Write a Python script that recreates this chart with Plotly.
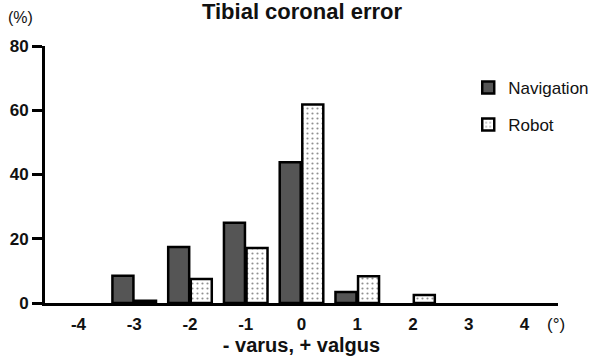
import plotly.graph_objects as go

categories = [-4, -3, -2, -1, 0, 1, 2, 3, 4]
navigation = [0, 8.5, 17.4, 25.0, 43.8, 3.4, 0, 0, 0]
robot = [0, 0.7, 7.5, 17.1, 61.8, 8.3, 2.5, 0, 0]
y_ticks = [0, 20, 40, 60, 80]

font_family = "Arial, Liberation Sans, Helvetica, sans-serif"


def nonzero(vals):
    return [v if v > 0 else None for v in vals]


fig = go.Figure()
fig.add_trace(go.Bar(
    x=categories, y=nonzero(navigation), name="Navigation", legendgroup="nav",
    marker=dict(color="#555555", line=dict(color="black", width=2.5)),
))
fig.add_trace(go.Bar(
    x=categories, y=nonzero(robot), name="Robot", legendgroup="rob",
    marker=dict(color="white", line=dict(color="black", width=2.5),
                pattern=dict(shape=".", fgcolor="#222222", bgcolor="white",
                             size=5, solidity=0.15)),
))

fig.update_layout(
    width=603, height=360,
    margin=dict(l=45, r=45, t=46, b=57, autoexpand=False),
    paper_bgcolor="white", plot_bgcolor="white",
    barmode="group", bargap=0.19, bargroupgap=0.07,
    font=dict(family=font_family, color="#111111"),
    title=dict(text="<b>Tibial coronal error</b>", x=302 / 603,
               xanchor="center", xref="container", y=1 - 11 / 360,
               yanchor="middle", yref="container", font=dict(size=22)),
    showlegend=True,
    legend=dict(x=0.825, y=0.907, xanchor="left", yanchor="top",
                font=dict(size=17), tracegroupgap=12,
                bgcolor="rgba(0,0,0,0)"),
    xaxis=dict(range=[-4.6, 4.6], tickvals=categories,
               ticktext=["<b>%d</b>" % c for c in categories],
               showline=True, linecolor="black", linewidth=3,
               ticks="", showgrid=False, zeroline=False, automargin=False,
               ticklabelstandoff=4,
               tickfont=dict(size=17),
               title=dict(text="<b>- varus, + valgus</b>", font=dict(size=20),
                          standoff=0)),
    yaxis=dict(range=[0, 80], tickvals=y_ticks,
               ticktext=["<b>%d</b>" % v for v in y_ticks],
               showline=True, linecolor="black", linewidth=3,
               ticks="outside", ticklen=10, tickwidth=2.5, tickcolor="black",
               showgrid=False, zeroline=False, automargin=False,
               tickfont=dict(size=17)),
)

fig.add_annotation(text="(%)", xref="paper", yref="paper", x=-0.047, y=1.109,
                   xanchor="center", yanchor="middle", showarrow=False,
                   font=dict(size=16))
fig.add_annotation(text="(°)", xref="paper", yref="paper", x=0.997, y=-0.085,
                   xanchor="center", yanchor="middle", showarrow=False,
                   font=dict(size=17))

fig.write_html("out.html", config={"displayModeBar": False},
               post_script="document.body.style.margin='0px';")
